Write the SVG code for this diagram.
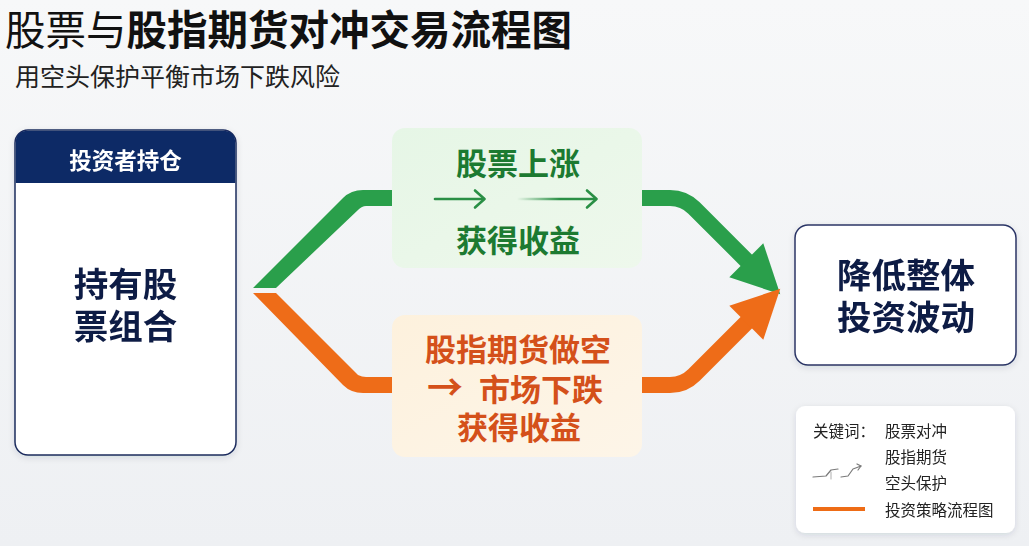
<svg xmlns="http://www.w3.org/2000/svg" width="1029" height="546" viewBox="0 0 1029 546">
  <style>
    .cjk { font-family: "Noto Sans CJK SC", "Noto Sans", sans-serif; }
    .title { font-size: 40.5px; fill: #111; }
    .sub { font-size: 25px; fill: #222; }
    .hdr { font-size: 22.5px; font-weight: 700; fill: #ffffff; }
    .navy { font-size: 34.5px; font-weight: 700; fill: #101c45; }
    .gtxt { font-size: 31px; font-weight: 700; fill: #1c7a31; }
    .otxt { font-size: 31px; font-weight: 700; fill: #d4501a; }
    .leg { font-size: 15.5px; fill: #222; }
    .band-g { fill: none; stroke: #2a9f4b; stroke-width: 16; stroke-linejoin: round; }
    .band-o { fill: none; stroke: #ee6c18; stroke-width: 16; stroke-linejoin: round; }
  </style>
  <defs>
    <linearGradient id="bg" x1="0" y1="0" x2="0" y2="1">
      <stop offset="0" stop-color="#f7f8f9"/>
      <stop offset="1" stop-color="#eef0f3"/>
    </linearGradient>
    <linearGradient id="gfill" x1="0" y1="0" x2="1" y2="1">
      <stop offset="0" stop-color="#e6f6e6"/>
      <stop offset="1" stop-color="#eef8ec"/>
    </linearGradient>
    <linearGradient id="ofill" x1="0" y1="0" x2="1" y2="1">
      <stop offset="0" stop-color="#fdf1dd"/>
      <stop offset="1" stop-color="#fdf5e8"/>
    </linearGradient>
    <linearGradient id="fade" x1="517" y1="0" x2="560" y2="0" gradientUnits="userSpaceOnUse">
      <stop offset="0" stop-color="#2a8f45" stop-opacity="0"/>
      <stop offset="1" stop-color="#2a8f45" stop-opacity="1"/>
    </linearGradient>
    <filter id="shadow" x="-10%" y="-10%" width="120%" height="125%">
      <feDropShadow dx="0" dy="2" stdDeviation="3" flood-color="#1a2a4a" flood-opacity="0.12"/>
    </filter>
    <marker id="ahG" markerUnits="userSpaceOnUse" orient="auto" refX="0" refY="0" markerWidth="60" markerHeight="60" viewBox="-5 -25 50 50" overflow="visible">
      <path d="M -2 -20 L 38 0 L -2 20 Z" fill="#2a9f4b"/>
    </marker>
    <marker id="ahO" markerUnits="userSpaceOnUse" orient="auto" refX="0" refY="0" markerWidth="60" markerHeight="60" viewBox="-5 -25 50 50" overflow="visible">
      <path d="M -2 -20 L 38 0 L -2 20 Z" fill="#ee6c18"/>
    </marker>
  </defs>

  <rect x="0" y="0" width="1029" height="546" fill="url(#bg)"/>

  <g id="title">
    <text class="cjk title" x="5" y="45"><tspan font-weight="400">股票与</tspan><tspan font-weight="700">股指期货对冲交易流程图</tspan></text>
    <text class="cjk sub" x="15" y="86">用空头保护平衡市场下跌风险</text>
  </g>

  <g id="connectors">
    <path d="M 253 288 L 343 198 Q 351 190 363 190 L 393 190 L 393 206 L 366 206 Q 362 206 358 210 L 276 288 Z" fill="#2a9f4b"/>
    <path d="M 253 293 L 276 293 L 358 375 Q 362 377 366 377 L 393 377 L 393 393 L 363 393 Q 351 393 343 385 Z" fill="#ee6c18"/>
    <path class="band-g" d="M 641 198 L 670 198 Q 684 198 694 208 L 748 262" marker-end="url(#ahG)"/>
    <path class="band-o" d="M 641 385 L 670 385 Q 684 385 694 375 L 748 321" marker-end="url(#ahO)"/>
  </g>

  <g id="node-holdings" filter="url(#shadow)">
    <rect x="15" y="130" width="221" height="325" rx="13" fill="#ffffff" stroke="#1d2c5e" stroke-width="1.5"/>
    <path d="M 15.75 183 L 15.75 143 Q 15.75 130.75 28 130.75 L 223 130.75 Q 235.25 130.75 235.25 143 L 235.25 183 Z" fill="#0d2a66"/>
    <text class="cjk hdr" x="125.5" y="169" text-anchor="middle">投资者持仓</text>
    <text class="cjk navy" x="125.5" y="297" text-anchor="middle">持有股</text>
    <text class="cjk navy" x="125.5" y="339" text-anchor="middle">票组合</text>
  </g>

  <g id="node-up">
    <rect x="392" y="128" width="250" height="140" rx="13" fill="url(#gfill)"/>
    <text class="cjk gtxt" x="518" y="175" text-anchor="middle">股票上涨</text>
    <g fill="none" stroke="#2a8f45" stroke-width="2.6" stroke-linecap="round" stroke-linejoin="round">
      <line x1="435" y1="199" x2="484" y2="199"/>
      <polyline points="475,190.5 484.5,199 475,207.5"/>
      <line x1="517" y1="199" x2="596" y2="199" stroke="url(#fade)"/>
      <polyline points="587,190.5 596.5,199 587,207.5"/>
    </g>
    <text class="cjk gtxt" x="518" y="252" text-anchor="middle">获得收益</text>
  </g>

  <g id="node-short">
    <rect x="392" y="315" width="250" height="142" rx="13" fill="url(#ofill)"/>
    <text class="cjk otxt" x="518" y="361" text-anchor="middle">股指期货做空</text>
    <text class="cjk otxt" y="401"><tspan x="427" font-size="36">→</tspan><tspan x="479">市场下跌</tspan></text>
    <text class="cjk otxt" x="519" y="439" text-anchor="middle">获得收益</text>
  </g>

  <g id="node-result" filter="url(#shadow)">
    <rect x="795" y="225" width="221" height="140" rx="13" fill="#ffffff" stroke="#2b3566" stroke-width="1.5"/>
    <text class="cjk navy" x="906" y="288" text-anchor="middle">降低整体</text>
    <text class="cjk navy" x="906" y="330" text-anchor="middle">投资波动</text>
  </g>

  <g id="legend" filter="url(#shadow)">
    <rect x="796" y="406" width="219" height="127" rx="9" fill="#ffffff"/>
    <text class="cjk leg" x="813" y="437">关键词：</text>
    <text class="cjk leg" x="885" y="437">股票对冲</text>
    <text class="cjk leg" x="885" y="463">股指期货</text>
    <text class="cjk leg" x="885" y="489">空头保护</text>
    <text class="cjk leg" x="885" y="516">投资策略流程图</text>
    <g fill="none" stroke="#7a7a7a" stroke-width="1.2" stroke-linecap="round" stroke-linejoin="round">
      <polyline points="813,477 826,476 831,470 838,469"/>
      <polyline points="841,477 848,476 853,469 861,466"/>
      <polyline points="857,464 861,466 858,470"/>
      <line x1="831" y1="472" x2="831" y2="479" stroke="#bbbbbb"/>
    </g>
    <line x1="813" y1="509" x2="865" y2="509" stroke="#ee6c18" stroke-width="4"/>
  </g>
</svg>
